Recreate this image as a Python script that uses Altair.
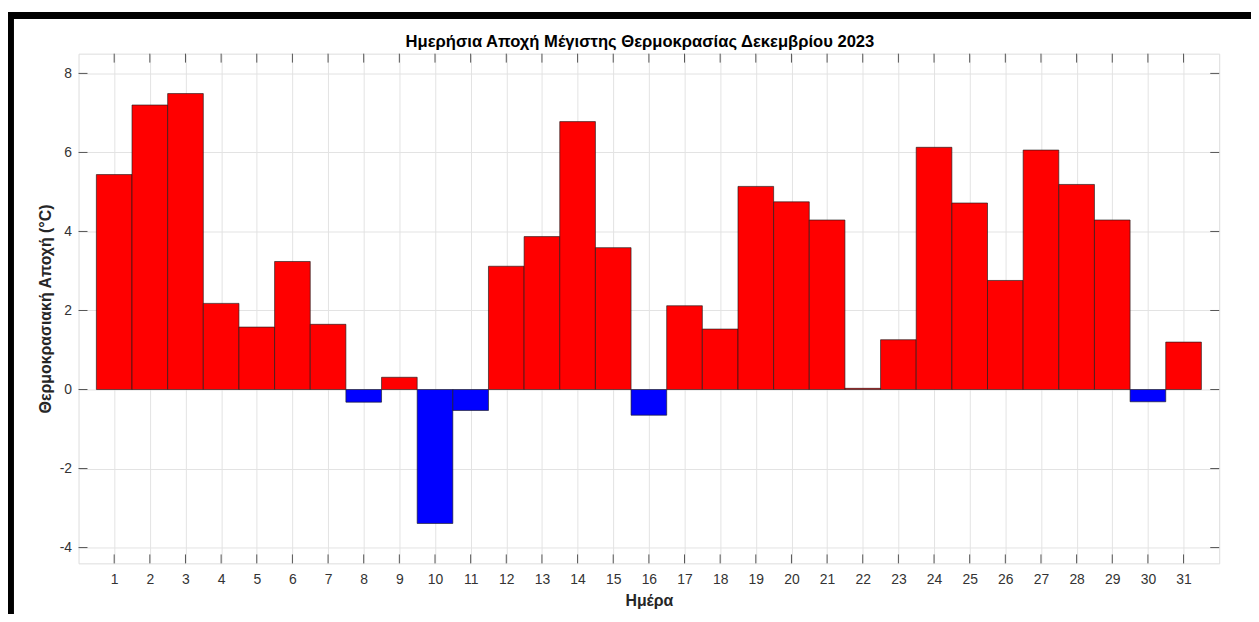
import altair as alt
import pandas as pd

days = list(range(1, 32))
anomaly = [5.44, 7.20, 7.49, 2.18, 1.58, 3.24, 1.65, -0.32, 0.31, -3.39,
           -0.53, 3.12, 3.87, 6.78, 3.59, -0.65, 2.12, 1.53, 5.14, 4.75,
           4.29, 0.03, 1.26, 6.13, 4.72, 2.76, 6.06, 5.19, 4.29, -0.31, 1.20]
y_ticks = [-4, -2, 0, 2, 4, 6, 8]
title_text = ["Ημερήσια Αποχή Μέγιστης Θερμοκρασίας Δεκεμβρίου 2023"]
x_title = "Ημέρα"
y_title = "Θερμοκρασιακή Αποχή (°C)"

W, H = 1148, 513
FONT = "Liberation Sans"

df = pd.DataFrame({"day": days, "value": anomaly})
df["x0"] = df["day"] - 0.5
df["x1"] = df["day"] + 0.5
df["zero"] = 0.0
df["sign"] = ["pos" if v >= 0 else "neg" for v in anomaly]

x_scale = alt.Scale(domain=[0, 32], nice=False, zero=False)
y_scale = alt.Scale(domain=[-4.4, 8.5], nice=False, zero=False)

x_axis = alt.Axis(values=days, grid=True, gridColor="#e3e3e3", gridWidth=1,
                  tickSize=0, domain=False, labelFont=FONT, labelFontSize=14,
                  labelColor="#333333", labelPadding=9, titleFont=FONT,
                  titleFontSize=16, titleFontWeight="bold", titleColor="#262626",
                  titlePadding=6, labelFlush=False, labelExpr="'' + datum.value")
y_axis = alt.Axis(values=y_ticks, grid=True, gridColor="#e3e3e3", gridWidth=1,
                  tickSize=0, domain=False, labelFont=FONT, labelFontSize=14,
                  labelColor="#333333", labelPadding=7, titleFont=FONT,
                  titleFontSize=16, titleFontWeight="bold", titleColor="#262626",
                  titlePadding=6, labelFlush=False, labelExpr="'' + datum.value")

bars = alt.Chart(df).mark_rect(stroke="#1a1a1a", strokeWidth=0.8, strokeOpacity=0.8).encode(
    x=alt.X("x0:Q", scale=x_scale, axis=x_axis, title=x_title),
    x2="x1:Q",
    y=alt.Y("value:Q", scale=y_scale, axis=y_axis, title=y_title),
    y2="zero:Q",
    color=alt.Color("sign:N", scale=alt.Scale(domain=["pos", "neg"], range=["#ff0000", "#0000ff"]),
                    legend=None),
)

tick_df = pd.DataFrame({"day": days})
ytick_df = pd.DataFrame({"value": y_ticks})

xt_bottom = alt.Chart(tick_df).mark_rule(color="#555555", strokeWidth=1).encode(
    x=alt.X("day:Q", scale=x_scale, axis=x_axis, title=x_title),
    y=alt.value(H), y2=alt.value(H - 9))
xt_top = alt.Chart(tick_df).mark_rule(color="#555555", strokeWidth=1).encode(
    x=alt.X("day:Q", scale=x_scale, axis=x_axis, title=x_title),
    y=alt.value(0), y2=alt.value(9))
yt_left = alt.Chart(ytick_df).mark_rule(color="#555555", strokeWidth=1).encode(
    y=alt.Y("value:Q", scale=y_scale, axis=y_axis, title=y_title),
    x=alt.value(0), x2=alt.value(9))
yt_right = alt.Chart(ytick_df).mark_rule(color="#555555", strokeWidth=1).encode(
    y=alt.Y("value:Q", scale=y_scale, axis=y_axis, title=y_title),
    x=alt.value(W), x2=alt.value(W - 9))

title_mark = alt.Chart(pd.DataFrame({"t": title_text})).mark_text(
    font=FONT, fontSize=16.7, fontWeight="bold", color="#000000",
    align="center", baseline="alphabetic").encode(
    text="t:N", x=alt.value(565), y=alt.value(-7))

one = pd.DataFrame({"a": [0]})
frame_top = alt.Chart(one).mark_rule(color="black", strokeWidth=7).encode(
    x=alt.value(-72), x2=alt.value(1185), y=alt.value(-38.5))
frame_left = alt.Chart(one).mark_rule(color="black", strokeWidth=7).encode(
    x=alt.value(-68.5), y=alt.value(-42), y2=alt.value(H + 60))

chart = alt.layer(bars, xt_bottom, xt_top, yt_left, yt_right, title_mark,
                  frame_top, frame_left).properties(
    width=W, height=H,
    autosize=alt.AutoSizeParams(type="none"),
    padding={"left": 71, "top": 44, "right": 32, "bottom": 49},
).configure_view(stroke="#6b6b6b", strokeWidth=1).configure(background="white")

chart.save("out.html", embed_options={"renderer": "svg", "actions": False})
